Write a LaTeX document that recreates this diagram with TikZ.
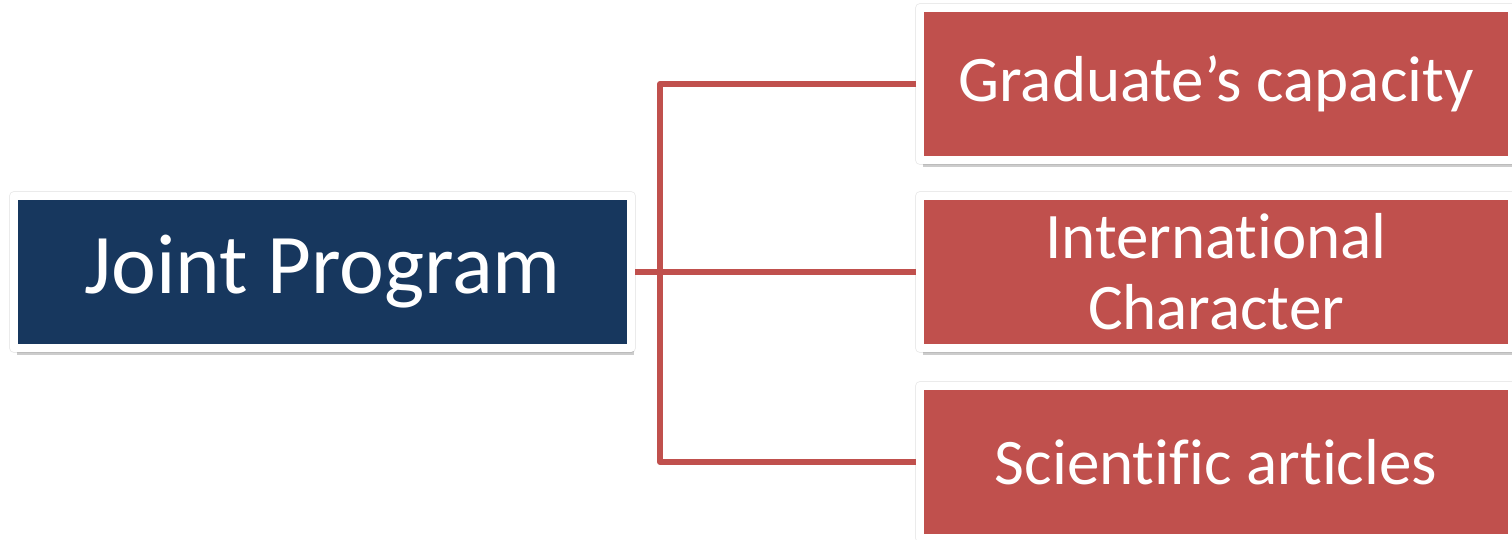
\documentclass[tikz,border=0pt]{standalone}
\usepackage{fontspec}
\setmainfont{Carlito}[Ligatures=NoCommon]
\usepackage{tikz}
\usetikzlibrary{positioning, shadows}
\definecolor{navybox}{HTML}{17375E}
\definecolor{redbox}{HTML}{C0504D}

\begin{document}
\begin{tikzpicture}[
	x=1pt, y=-1pt,
	framebox/.style={rectangle, draw=white, line width=8pt, line join=round,
		outer sep=0pt, inner sep=0pt, text=white, align=center,
		preaction={draw=black!8, line width=9.5pt},
		drop shadow={shadow xshift=2.5pt, shadow yshift=-6.5pt, opacity=0.2, fill=black}},
	mainbox/.style={framebox, fill=navybox, minimum width=617pt, minimum height=152pt,
		font=\fontsize{85}{90}\selectfont},
	goalbox/.style={framebox, fill=redbox, minimum width=592pt, minimum height=152pt,
		font=\fontsize{65}{71}\selectfont},
	link/.style={draw=redbox, line width=6pt, line join=round}
	]
	\useasboundingbox (0,0) rectangle (1512,539);
	
	% Left: the program
	\node[mainbox] (joint) at (322.5,272) {Joint Program};
	
	% Right: the three outcomes
	\node[goalbox] (intl) [right=289pt of joint] {International\\Character};
	\node[goalbox] (grad) [above=36pt of intl] {Graduate’s capacity};
	\node[goalbox] (sci) [below=38pt of intl] {Scientific articles};
	
	% Connectors
	\coordinate (split) at (660,272);
	\draw[link, shorten <=4pt, shorten >=4pt] (joint.east) -- (intl.west);
	\draw[link, shorten <=4pt, shorten >=4pt] (grad.west) -| (split) |- (sci.west);
	
\end{tikzpicture}
\end{document}
